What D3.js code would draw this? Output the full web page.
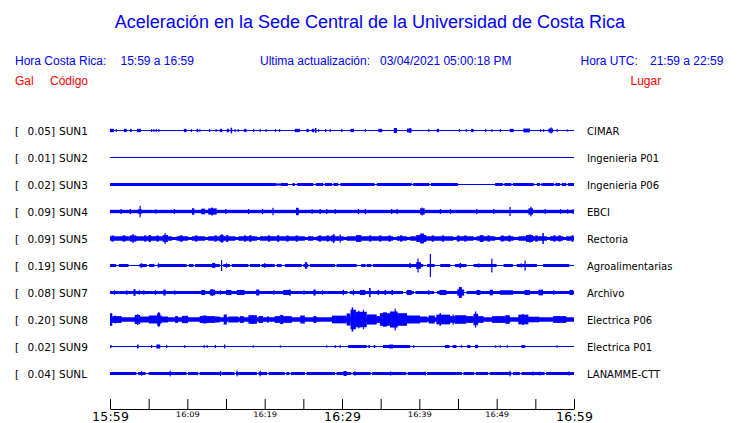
<!DOCTYPE html>
<html>
<head>
<meta charset="utf-8">
<script src="https://cdn.jsdelivr.net/npm/d3@7"></script>
<style>
  html, body { margin: 0; padding: 0; background: #fff; }
  svg { display: block; }
</style>
</head>
<body>
<svg id="chart" width="740" height="423"></svg>
<script>
// ---------------- DATA ----------------
const stations = ["SUN1","SUN2","SUN3","SUN4","SUN5","SUN6","SUN7","SUN8","SUN9","SUNL"];
const peakGal  = [0.05, 0.01, 0.02, 0.09, 0.09, 0.19, 0.08, 0.20, 0.02, 0.04];
const places   = ["CIMAR","Ingenieria P01","Ingenieria P06","EBCI","Rectoria","Agroalimentarias","Archivo","Electrica P06","Electrica P01","LANAMME-CTT"];
const tickMinutes = [0,5,10,15,20,25,30,35,40,45,50,55,60];
const tickLabels  = {0:"15:59",10:"16:09",20:"16:19",30:"16:29",40:"16:39",50:"16:49",60:"16:59"};
const majorTicks  = [0,30,60];

const titleText = "Aceleración en la Sede Central de la Universidad de Costa Rica";
const headerLeft  = ["Hora Costa Rica:", "15:59 a 16:59"];
const headerMid   = ["Ultima actualización:", "03/04/2021 05:00:18 PM"];
const headerRight = ["Hora UTC:", "21:59 a 22:59"];
const columnHeads = ["Gal", "Código", "Lugar"];

// Envelope segments per station: [start minute, end minute, half-amplitude in Gal]
const sun1 = [[0,0.5,0.02],[0.75,0.85,0.015],[1.8,2.15,0.02],[2.6,2.8,0.02],[3.5,4.0,0.02],[5.3,5.4,0.015],[5.6,5.7,0.015],[5.9,6.0,0.015],[6.25,6.4,0.015],[9.55,9.9,0.02],[10.45,10.55,0.015],[11.2,11.4,0.02],[11.55,11.65,0.015],[12.8,12.9,0.015],[13.65,13.75,0.015],[14.2,14.5,0.02],[15.1,15.4,0.02],[15.6,15.8,0.04],[16.1,16.2,0.015],[16.5,16.6,0.015],[17.35,17.65,0.02],[18.5,18.6,0.015],[19.35,19.45,0.015],[20.1,20.2,0.015],[21.3,21.4,0.015],[21.85,21.95,0.015],[23.9,24.55,0.02],[25.4,25.7,0.02],[26.1,26.4,0.02],[26.5,26.7,0.035],[26.9,27.0,0.015],[27.8,27.9,0.015],[28.4,28.5,0.015],[29.9,30.05,0.02],[31.1,31.55,0.02],[32.95,33.05,0.015],[34.7,35.2,0.02],[36.7,37.1,0.035],[38.4,39.0,0.025],[38.75,38.9,0.035],[41.15,41.25,0.015],[42.25,42.55,0.02],[45.1,45.2,0.015],[46.0,46.1,0.015],[46.7,47.0,0.02],[48.5,48.6,0.015],[49.3,49.4,0.015],[50.4,50.5,0.015],[51.7,52.2,0.02],[53.45,54.3,0.025],[55.6,55.7,0.015],[56.0,56.1,0.015],[56.7,57.3,0.025],[56.95,57.1,0.045],[57.75,57.85,0.015],[59.05,59.15,0.01]];
const sun2 = [];
const sun3 = [[0,21.5,0.017],[21.5,22.1,0.01],[22.1,23,0.017],[23.6,23.9,0.017],[24.2,26.3,0.017],[26.6,27.6,0.017],[27.8,28.7,0.017],[28.9,29.5,0.017],[29.8,34.2,0.017],[34.5,39.0,0.017],[39.2,41.3,0.017],[41.5,45.0,0.017],[49.8,50.8,0.017],[51.0,51.9,0.017],[52.1,54.8,0.017],[55.2,55.6,0.017],[55.8,57.4,0.017],[57.6,58.2,0.017],[58.4,59.0,0.017],[59.2,60,0.017]];
const sun4 = [[0,60,0.02],[1.35,1.5,0.035],[2.55,2.7,0.035],[3.6,4.1,0.03],[3.82,3.95,0.09],[5.85,5.95,0.028],[8.25,8.35,0.032],[10.6,10.9,0.048],[11.8,12.3,0.04],[12.7,13.8,0.045],[13.1,13.3,0.06],[14.9,15.0,0.035],[17.85,17.95,0.035],[19.65,19.75,0.035],[21.0,21.15,0.055],[24.05,24.4,0.055],[26.05,26.15,0.032],[27.1,27.2,0.035],[27.95,28.05,0.035],[29.05,29.15,0.032],[32.05,32.15,0.035],[32.95,33.05,0.035],[36.35,36.45,0.035],[37.05,37.15,0.035],[40.1,40.7,0.045],[40.3,40.45,0.06],[42.65,42.75,0.032],[43.95,44.05,0.032],[47.35,47.45,0.035],[49.55,49.65,0.035],[51.65,51.75,0.07],[54.1,54.7,0.045],[54.35,54.5,0.075],[56.2,56.3,0.035],[58.2,58.3,0.032],[59.1,59.2,0.03],[59.8,59.9,0.032]];
const sun5 = [[0,60,0.017],[0,8,0.03],[8.6,10.1,0.03],[10.6,12.3,0.03],[12.7,16.2,0.03],[16.6,19,0.03],[19.4,25.2,0.03],[25.6,26.3,0.03],[26.7,30.2,0.03],[30.6,36.6,0.03],[37.1,38.4,0.03],[38.8,44.4,0.03],[44.8,47,0.03],[47.4,49.8,0.03],[50.4,52.2,0.03],[52.8,56.5,0.03],[56.9,58.6,0.03],[59,60,0.03],[0.2,0.5,0.045],[1.6,2.0,0.045],[2.6,3.4,0.045],[2.9,3.05,0.07],[4.4,4.7,0.045],[5.0,5.3,0.05],[6.0,6.3,0.045],[6.8,7.5,0.05],[7.05,7.2,0.085],[9.0,9.4,0.045],[11.0,11.3,0.045],[13.5,13.8,0.045],[14.2,14.7,0.05],[14.4,14.5,0.07],[15.0,15.3,0.05],[17.3,17.6,0.045],[18.0,18.3,0.048],[20.4,20.7,0.045],[21.6,21.9,0.048],[22.8,23.1,0.045],[24.0,24.3,0.045],[27.0,27.3,0.045],[28.0,28.3,0.045],[28.6,29.1,0.045],[28.85,28.95,0.07],[29.7,29.85,0.06],[31.8,32.5,0.05],[33.5,33.8,0.045],[34.8,35.1,0.045],[36.0,36.3,0.045],[37.5,37.8,0.045],[39.6,40.9,0.05],[40.1,40.6,0.077],[41.6,41.9,0.045],[42.9,43.2,0.045],[44.9,45.2,0.045],[45.8,46.1,0.045],[47.8,48.3,0.05],[48.8,49.1,0.045],[50.6,50.9,0.045],[51.5,51.8,0.045],[53.8,54.7,0.05],[54.2,54.4,0.06],[55.0,55.3,0.045],[55.9,56.1,0.085],[57.3,57.6,0.045],[58.0,58.3,0.045],[59.7,59.9,0.05]];
const sun6 = [[0,0.8,0.017],[1.15,2.4,0.017],[3.8,4.75,0.017],[5.05,5.75,0.017],[6.15,9.9,0.017],[10.2,10.8,0.017],[11.0,14.2,0.017],[14.65,15.5,0.017],[15.75,17.9,0.017],[18.1,19.4,0.017],[19.6,21.3,0.017],[21.55,22.2,0.017],[22.6,24.8,0.017],[25.0,25.65,0.017],[25.85,29.1,0.017],[29.3,31.9,0.017],[32.5,33.05,0.017],[33.2,33.8,0.017],[34.0,40.5,0.017],[41.0,42.0,0.017],[42.7,44.0,0.017],[44.6,46.1,0.017],[47.0,50.0,0.017],[50.9,52.1,0.017],[52.6,55.2,0.017],[56.0,59.4,0.017],[3.95,4.15,0.03],[6.2,6.35,0.03],[13.2,13.6,0.035],[14.35,14.5,0.085],[15.0,15.15,0.03],[19.9,20.1,0.03],[25.2,25.5,0.048],[38.7,38.9,0.032],[39.6,40.2,0.05],[39.75,39.9,0.11],[41.35,41.45,0.19],[45.2,45.4,0.035],[47.6,47.7,0.028],[49.3,49.4,0.11],[53.1,53.2,0.028],[53.6,53.7,0.078]];
const sun7 = [[0,30.7,0.017],[31.0,37.9,0.017],[38.3,39.3,0.017],[39.5,41.9,0.017],[42.3,45.7,0.017],[46.1,60,0.017],[0.5,0.6,0.03],[2.1,2.2,0.03],[3.05,3.3,0.05],[3.7,3.8,0.03],[4.3,4.4,0.03],[5.8,5.9,0.03],[6.9,7.2,0.043],[8.3,8.4,0.03],[11.8,12.3,0.035],[12.9,13.6,0.04],[13.1,13.3,0.05],[14.2,14.3,0.03],[15.0,15.7,0.035],[16.4,17.4,0.035],[18.9,19.3,0.043],[21.1,21.2,0.03],[22.4,23.3,0.035],[23.2,23.3,0.05],[25.0,25.1,0.03],[26.3,26.6,0.043],[27.4,27.5,0.03],[30.1,30.25,0.038],[31.4,31.5,0.04],[32.3,33.0,0.035],[33.5,33.7,0.07],[34.6,34.8,0.035],[35.5,35.7,0.035],[36.4,36.6,0.035],[38.4,39.0,0.035],[41.1,41.3,0.03],[42.6,43.5,0.035],[44.9,45.8,0.045],[45.1,45.5,0.085],[47.4,47.9,0.035],[49.1,49.5,0.04],[50.4,52.1,0.03],[53.6,54.3,0.035],[55.4,56.0,0.04],[57.3,57.4,0.03],[59.4,59.9,0.035]];
const sun8 = [[0,60,0.03],[0,0.3,0.1],[0.3,1.5,0.05],[0.6,0.75,0.06],[3.2,3.9,0.07],[3.5,3.6,0.085],[3.9,5.0,0.043],[5.0,6.7,0.06],[6.1,6.5,0.1],[6.25,6.35,0.12],[6.7,7.5,0.043],[8.4,8.8,0.05],[9.3,10.1,0.055],[11.6,13.6,0.05],[12.0,12.5,0.06],[13.6,14.2,0.043],[14.7,15.1,0.078],[15.3,16.6,0.043],[16.8,17.3,0.05],[17.9,19.0,0.065],[18.3,18.5,0.07],[19.2,19.8,0.05],[20.3,20.5,0.048],[21.3,22.0,0.05],[22.0,22.4,0.07],[22.4,23.5,0.05],[24.6,25.2,0.06],[26.3,26.7,0.05],[28.7,30.6,0.058],[30.6,31.1,0.095],[31.1,31.8,0.16],[31.25,31.45,0.2],[31.8,33.2,0.125],[32.1,32.2,0.145],[32.7,32.8,0.16],[33.2,34.5,0.078],[34.5,34.9,0.05],[34.9,38.4,0.1],[35.3,35.8,0.115],[36.2,37.2,0.13],[36.8,36.9,0.18],[37.2,38.4,0.085],[38.4,40.1,0.06],[40.1,41.0,0.043],[41.2,42.0,0.06],[42.2,44.0,0.075],[42.6,42.8,0.1],[44.0,44.6,0.05],[44.3,44.4,0.078],[44.6,46.1,0.065],[46.1,47.0,0.05],[47.0,47.6,0.09],[47.2,47.3,0.13],[47.6,48.3,0.05],[49.4,51.1,0.05],[51.1,51.7,0.065],[52.8,54.1,0.075],[53.3,53.5,0.085],[54.1,55.5,0.04],[57.3,59.0,0.05]];
const sun9 = [[0,0.2,0.017],[3.5,3.7,0.026],[5.3,5.4,0.017],[6.0,6.5,0.026],[7.25,7.35,0.017],[9.6,9.7,0.017],[12.1,12.2,0.017],[12.5,12.6,0.015],[13.55,13.65,0.017],[14.75,14.9,0.026],[18.45,18.55,0.012],[21.95,22.05,0.01],[27.95,28.05,0.012],[29.05,29.15,0.015],[29.7,29.8,0.015],[30.8,33.2,0.017],[33.4,33.6,0.017],[34.1,34.3,0.017],[35.3,38.8,0.017],[36.1,36.6,0.026],[39.2,39.3,0.015],[43.3,43.9,0.017],[44.3,44.8,0.017],[45.4,45.5,0.015],[46.2,46.6,0.017],[47.2,47.6,0.02],[49.8,49.9,0.012],[50.4,50.5,0.012],[51.3,51.4,0.012],[53.2,53.7,0.017],[57.75,57.85,0.012]];
const sunL = [[0,3.4,0.017],[3.65,4.6,0.017],[5.0,9.9,0.017],[10.1,11.4,0.017],[11.6,14.2,0.017],[14.4,16.1,0.017],[16.3,19.0,0.017],[19.2,20.3,0.017],[20.5,22.6,0.017],[22.8,23.2,0.017],[23.4,25.2,0.017],[25.4,29.1,0.017],[29.3,31.2,0.017],[31.4,33.7,0.017],[33.9,38.3,0.017],[38.5,40.8,0.017],[41.0,45.5,0.017],[45.7,47.1,0.017],[47.3,48.9,0.017],[49.1,51.9,0.017],[52.1,53.0,0.017],[53.2,56.2,0.017],[56.4,60,0.017],[4.0,4.1,0.03],[7.7,7.8,0.04],[14.2,14.3,0.035],[16.35,16.45,0.04],[19.35,19.45,0.04],[30.2,30.6,0.035],[31.6,31.7,0.03],[36.2,36.3,0.026],[40.7,40.8,0.026],[51.65,51.75,0.04],[54.6,54.7,0.026],[55.5,55.6,0.026],[59.3,59.4,0.026]];
const traces = [sun1, sun2, sun3, sun4, sun5, sun6, sun7, sun8, sun9, sunL];

// ---------------- DRAW ----------------
const BLUE = "#0000ff", RED = "#ff0000";
const svg = d3.select("#chart");
svg.append("rect").attr("width", 740).attr("height", 423).attr("fill", "#fff");

const x = d3.scaleLinear().domain([0, 60]).range([110, 574]);
const y = d3.scalePoint().domain(stations).range([130.5, 373.5]);
const amp = d3.scaleLinear().domain([-0.2, 0.2]).range([11.6, -11.6]);

const sans = "'Liberation Sans', Arial, Helvetica, sans-serif";
const dejavu = "'DejaVu Sans', Verdana, sans-serif";

// Title and headers
svg.append("text").attr("x", 370).attr("y", 28).attr("text-anchor", "middle")
  .attr("font-family", sans).attr("font-size", 18).attr("fill", BLUE).text(titleText);

const hdr = svg.append("g").attr("font-family", sans).attr("font-size", 12).attr("fill", BLUE);
[[15, headerLeft[0]], [120.5, headerLeft[1]], [260, headerMid[0]], [380, headerMid[1]],
 [580.5, headerRight[0]], [650, headerRight[1]]].forEach(([px, t]) =>
  hdr.append("text").attr("x", px).attr("y", 65).text(t));

const red = svg.append("g").attr("font-family", sans).attr("font-size", 12).attr("fill", RED);
[[15, columnHeads[0]], [50, columnHeads[1]], [630.5, columnHeads[2]]].forEach(([px, t]) =>
  red.append("text").attr("x", px).attr("y", 85).text(t));

// Rows
const rows = svg.selectAll("g.row").data(stations).join("g")
  .attr("class", "row")
  .attr("transform", d => `translate(0,${y(d)})`);

rows.append("text").attr("x", 15).attr("y", 4).attr("font-family", dejavu)
  .attr("font-size", 10.5).attr("fill", "#000").text("[");
rows.append("text").attr("x", 27.5).attr("y", 4).attr("font-family", dejavu)
  .attr("font-size", 10.5).attr("fill", "#000").text((d, i) => peakGal[i].toFixed(2) + "]");
rows.append("text").attr("x", 59).attr("y", 4).attr("font-family", dejavu)
  .attr("font-size", 10.5).attr("fill", "#000").text(d => d);
rows.append("text").attr("x", 587).attr("y", 4).attr("font-family", dejavu)
  .attr("font-size", 10).attr("fill", "#000").text((d, i) => places[i]);

// Baseline
rows.append("line").attr("x1", x(0)).attr("x2", x(60)).attr("y1", 0).attr("y2", 0)
  .attr("stroke", BLUE).attr("stroke-width", 1);

// Envelope segments
rows.each(function(d, i) {
  d3.select(this).selectAll("rect.seg").data(traces[i]).join("rect")
    .attr("class", "seg")
    .attr("x", s => x(s[0]))
    .attr("width", s => Math.max(1.2, x(s[1]) - x(s[0])))
    .attr("y", s => amp(s[2]) - 0.5)
    .attr("height", s => amp(-s[2]) - amp(s[2]) + 1)
    .attr("fill", BLUE);
});

// Time axis
const axis = d3.axisBottom(x).tickValues(tickMinutes).tickSize(-10).tickSizeOuter(0)
  .tickFormat(m => tickLabels[m] || "");
const ax = svg.append("g").attr("transform", "translate(0,409)").call(axis);
ax.select(".domain").attr("stroke", "#000");
ax.selectAll(".tick line").attr("stroke", "#000");
ax.selectAll(".tick text")
  .attr("font-family", dejavu)
  .attr("fill", "#000")
  .each(function(m) {
    const t = d3.select(this);
    if (majorTicks.includes(m)) {
      t.attr("font-size", 12.5).attr("y", 3).attr("dy", "0.71em")
       .attr("textLength", 37).attr("lengthAdjust", "spacing");
    } else if (tickLabels[m]) {
      t.attr("font-size", 7.5).attr("y", 3).attr("dy", "0.71em")
       .attr("textLength", 24).attr("lengthAdjust", "spacingAndGlyphs");
    }
  });
</script>
</body>
</html>
